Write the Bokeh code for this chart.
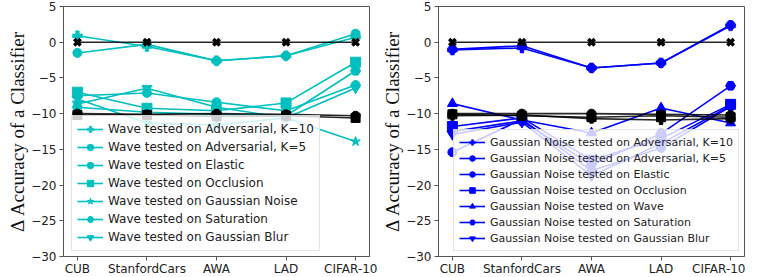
from bokeh.plotting import figure
from bokeh.layouts import row
from bokeh.models import FixedTicker, Legend, LegendItem, Range1d
from bokeh.embed import file_html
from bokeh.resources import INLINE

# ---------------- data ----------------
datasets = ["CUB", "StanfordCars", "AWA", "LAD", "CIFAR-10"]
x_pos = [0, 1, 2, 3, 4]
y_ticks = [-30, -25, -20, -15, -10, -5, 0, 5]

# Left panel: classifier trained on Wave
wave_labels = [
    "Wave tested on Adversarial, K=10",
    "Wave tested on Adversarial, K=5",
    "Wave tested on Elastic",
    "Wave tested on Occlusion",
    "Wave tested on Gaussian Noise",
    "Wave tested on Saturation",
    "Wave tested on Gaussian Blur",
]
wave_adv_k10 = [0.9, -0.6, -2.6, -1.9, 0.7]
wave_adv_k5 = [-1.5, -0.3, -2.6, -1.9, 1.2]
wave_elastic = [-7.5, -7.1, -8.4, -9.6, -6.0]
wave_occlusion = [-7.0, -9.25, -9.6, -8.5, -2.8]
wave_gnoise = [-7.95, -11.3, -11.6, -10.6, -13.9]
wave_saturation = [-9.1, -9.8, -10.1, -10.3, -4.0]
wave_gblur = [-8.65, -6.45, -9.1, -10.6, -6.4]
wave_markers = ["plus", "circle", "circle", "square", "star", "hex", "inverted_triangle"]

wave_ref_zero = [0, 0, 0, 0, 0]
wave_ref_a = [-10.2, -10.2, -10.4, -10.3, -10.6]
wave_ref_b = [-10.0, -10.1, -10.0, -10.1, -10.3]

# Right panel: classifier trained on Gaussian Noise
gn_labels = [
    "Gaussian Noise tested on Adversarial, K=10",
    "Gaussian Noise tested on Adversarial, K=5",
    "Gaussian Noise tested on Elastic",
    "Gaussian Noise tested on Occlusion",
    "Gaussian Noise tested on Wave",
    "Gaussian Noise tested on Saturation",
    "Gaussian Noise tested on Gaussian Blur",
]
gn_adv_k10 = [-1.1, -0.8, -3.6, -2.9, 2.3]
gn_adv_k5 = [-1.0, -0.5, -3.6, -2.9, 2.4]
gn_elastic = [-15.4, -10.8, -18.0, -14.8, -9.0]
gn_occlusion = [-11.8, -10.6, -16.5, -13.5, -8.7]
gn_wave = [-8.6, -10.9, -12.7, -9.2, -11.3]
gn_saturation = [-12.5, -11.0, -17.2, -12.8, -6.1]
gn_gblur = [-12.9, -11.2, -18.7, -14.2, -8.9]
gn_markers = ["plus", "circle", "circle", "square", "triangle", "hex", "inverted_triangle"]

gn_ref_zero = [0, 0, 0, 0, 0]
gn_ref_a = [-10.1, -10.3, -10.5, -10.3, -10.5]
gn_ref_b = [-10.0, -10.0, -10.0, -10.1, -10.2]
gn_ref_c = [-10.3, -10.2, -10.7, -10.9, -10.7]


def make_panel(series, labels, markers, color, refs, ref_markers,
               border_left, border_right, legend_loc, legend_font,
               row_h, row_gap, pad):
    p = figure(frame_width=306, frame_height=250, output_backend="svg",
               toolbar_location=None, x_range=Range1d(-0.2, 4.2),
               y_range=Range1d(-30, 5),
               min_border_left=border_left, min_border_right=border_right,
               min_border_top=6, min_border_bottom=18)
    p.grid.visible = False
    p.outline_line_color = "#555555"
    p.background_fill_color = "white"

    items = []
    for vals, lab, mk in zip(series, labels, markers):
        lr = p.line(x_pos, vals, line_color=color, line_width=1.6)
        sr = p.scatter(x_pos, vals, marker=mk, size=10 if mk != "circle" else 9,
                       fill_color=color, line_color=color,
                       line_width=1 if mk != "plus" else 0.5)
        items.append(LegendItem(label=lab, renderers=[lr, sr]))

    for vals, mk in zip(refs, ref_markers):
        p.line(x_pos, vals, line_color="black", line_width=1.6, line_alpha=0.85)
        if mk == "x":
            p.scatter(x_pos, vals, marker="x", size=9, line_color="black", line_width=3.5)
        else:
            p.scatter(x_pos, vals, marker=mk, size=9, fill_color="black", line_color="black")

    legend = Legend(items=items, location=legend_loc,
                    label_text_font="DejaVu Sans",
                    label_text_font_size=legend_font,
                    label_text_color="#222222",
                    glyph_width=26, glyph_height=row_h, label_height=row_h,
                    label_standoff=5, spacing=row_gap, padding=pad, margin=0,
                    background_fill_color="white", background_fill_alpha=0.8,
                    border_line_color="#cccccc", border_line_width=1)
    p.add_layout(legend)

    for ax in (p.xaxis[0], p.yaxis[0]):
        ax.axis_line_color = "#555555"
        ax.major_tick_line_color = "#555555"
        ax.major_tick_out = 4
        ax.major_tick_in = 0
        ax.minor_tick_line_color = None
        ax.major_label_text_font = "DejaVu Sans"
        ax.major_label_text_font_size = "12px"
        ax.major_label_text_color = "#222222"

    p.xaxis.ticker = FixedTicker(ticks=x_pos)
    p.xaxis.major_label_overrides = {i: d for i, d in zip(x_pos, datasets)}
    p.xaxis.major_label_standoff = 1

    p.yaxis.ticker = FixedTicker(ticks=y_ticks)
    p.yaxis.major_label_overrides = {t: (str(t).replace("-", "\u2212")) for t in y_ticks}
    p.yaxis.major_label_standoff = 3
    p.yaxis.axis_label = "\u0394 Accuracy of a Classifier"
    p.yaxis.axis_label_text_font = "Liberation Serif"
    p.yaxis.axis_label_text_font_size = "19px"
    p.yaxis.axis_label_text_font_style = "normal"
    p.yaxis.axis_label_text_color = "#111111"
    p.yaxis.axis_label_standoff = 0
    return p


left = make_panel(
    [wave_adv_k10, wave_adv_k5, wave_elastic, wave_occlusion, wave_gnoise,
     wave_saturation, wave_gblur],
    wave_labels, wave_markers, "#00BFBF",
    [wave_ref_zero, wave_ref_a, wave_ref_b], ["x", "square", "circle"],
    63, 8, (8, 5), "12px", 16, 2, 5)

right = make_panel(
    [gn_adv_k10, gn_adv_k5, gn_elastic, gn_occlusion, gn_wave,
     gn_saturation, gn_gblur],
    gn_labels, gn_markers, "#0000FF",
    [gn_ref_zero, gn_ref_a, gn_ref_b, gn_ref_c], ["x", "square", "circle", "plus"],
    61, 1, (15, 5), "11px", 14, 2, 5)

layout = row(left, right)
open("out.html", "w").write(file_html(layout, INLINE))
